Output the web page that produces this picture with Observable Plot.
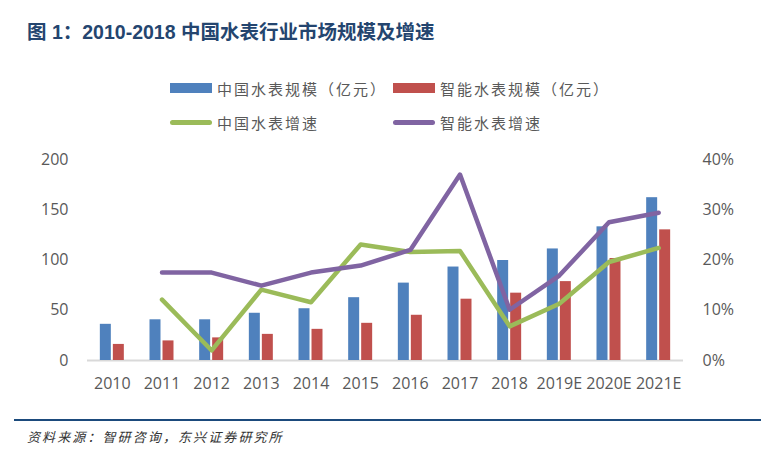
<!DOCTYPE html>
<html>
<head>
<meta charset="utf-8">
<script src="https://cdn.jsdelivr.net/npm/d3@7"></script>
<script src="https://cdn.jsdelivr.net/npm/@observablehq/plot@0.6"></script>
<style>
  body { margin: 0; background: #fff; }
  #wrap { position: relative; width: 768px; height: 461px; overflow: hidden; background: #fff; }
  #title {
    position: absolute; left: 27px; top: 18px; white-space: nowrap;
    font-family: "Liberation Sans", "Noto Sans CJK SC", sans-serif;
    font-weight: bold; font-size: 19.5px; color: #24456f; line-height: 28px;
  }
  .item {
    position: absolute; height: 20px; display: flex; align-items: center; white-space: nowrap;
    font-family: "Noto Sans CJK SC", sans-serif; font-size: 15px; letter-spacing: 2px; color: #595959;
  }
  .box { width: 42px; height: 10px; margin-right: 5px; }
  .stroke { width: 42px; height: 5px; border-radius: 3px; margin-right: 5px; }
  #chart { position: absolute; left: 0; top: 140px; }
  #rule { position: absolute; left: 14px; top: 419px; width: 747px; height: 2px; background: #1b4a7c; }
  #source {
    position: absolute; left: 27px; top: 428px; white-space: nowrap;
    font-family: "Noto Sans CJK SC", sans-serif; font-style: italic; font-size: 13px;
    letter-spacing: 2.1px; color: #333; line-height: 18px;
  }
</style>
</head>
<body>
<div id="wrap">
  <div id="title">图 1：2010-2018 中国水表行业市场规模及增速</div>
  <div class="item" style="left:170px; top:78px;"><span class="box" style="background:#4f81bd"></span>中国水表规模（亿元）</div>
  <div class="item" style="left:393px; top:78px;"><span class="box" style="background:#c0504d"></span>智能水表规模（亿元）</div>
  <div class="item" style="left:170px; top:112px;"><span class="stroke" style="background:#9bbb59"></span>中国水表增速</div>
  <div class="item" style="left:393px; top:112px;"><span class="stroke" style="background:#8064a2"></span>智能水表增速</div>
  <div id="chart"></div>
  <div id="rule"></div>
  <div id="source">资料来源：智研咨询，东兴证券研究所</div>
</div>
<script>
// Years on the category axis
const years = ["2010", "2011", "2012", "2013", "2014", "2015", "2016", "2017", "2018", "2019E", "2020E", "2021E"];
// Market size, 100 million yuan
const chinaScale = [36, 40.5, 40.5, 47, 51.5, 62.5, 77, 93, 99.5, 111, 133, 162];
const smartScale = [16, 19.5, 22.5, 26, 31, 37, 45, 61, 67, 78.5, 101.5, 130];
// Year-on-year growth, percent
const chinaGrowth = [null, 12.1, 2.0, 14.1, 11.6, 23.1, 21.6, 21.8, 6.8, 11.3, 19.6, 22.4];
const smartGrowth = [null, 17.5, 17.5, 14.9, 17.5, 18.9, 22.0, 37.0, 10.1, 16.9, 27.5, 29.4];
// Left axis ticks (size) and right axis ticks (growth)
const sizeTicks = [0, 50, 100, 150, 200];
const growthTicks = ["0%", "10%", "20%", "30%", "40%"];

const rows = years.map((year, i) => ({
  year, china: chinaScale[i], smart: smartScale[i], cg: chinaGrowth[i], sg: smartGrowth[i]
}));
// growth shares the size scale: 40% sits level with 200
const pct = p => p * 5;

const chart = Plot.plot({
  width: 768,
  height: 260,
  marginTop: 19,
  marginBottom: 40,
  marginLeft: 87,
  marginRight: 85,
  style: { fontFamily: "'Open Sans', sans-serif", fontSize: "16px", color: "#595959", background: "transparent" },
  x: { domain: years, paddingInner: 0.517, paddingOuter: 0.2585, round: false, label: null },
  y: { domain: [0, 200], label: null },
  marks: [
    Plot.axisY(sizeTicks, { anchor: "left", tickSize: 0, tickPadding: 19, label: null }),
    Plot.axisY(sizeTicks, { anchor: "right", tickSize: 0, tickPadding: 19, label: null,
      tickFormat: (d, i) => growthTicks[i] }),
    Plot.axisX({ tickSize: 0, tickPadding: 17, label: null }),
    Plot.ruleY([0], { stroke: "#d9d9d9", strokeWidth: 2 }),
    Plot.barY(rows, { x: "year", y: "china", fill: "#4f81bd", insetRight: 13 }),
    Plot.barY(rows, { x: "year", y: "smart", fill: "#c0504d", insetLeft: 13 }),
    Plot.line(rows.filter(d => d.cg != null), { x: "year", y: d => pct(d.cg), stroke: "#9bbb59", strokeWidth: 4.5 }),
    Plot.line(rows.filter(d => d.sg != null), { x: "year", y: d => pct(d.sg), stroke: "#8064a2", strokeWidth: 4.5 })
  ]
});
document.getElementById("chart").appendChild(chart);
</script>
</body>
</html>
